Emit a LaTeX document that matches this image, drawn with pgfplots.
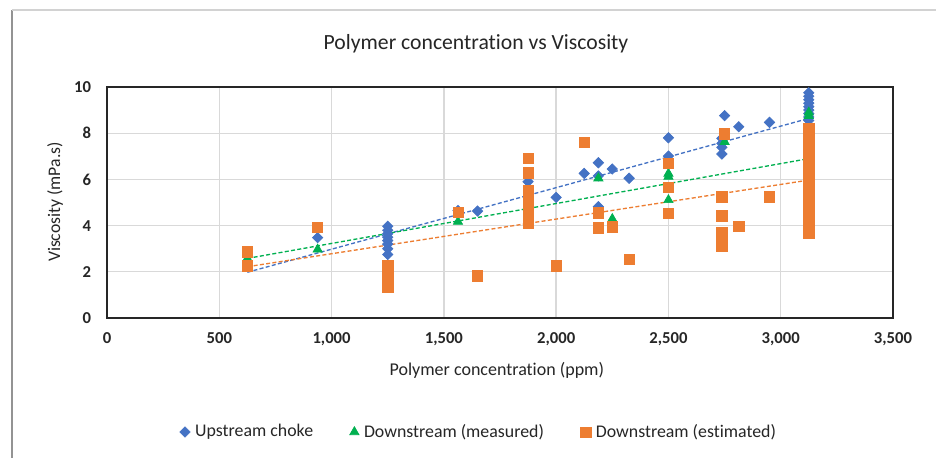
\documentclass[border=0pt]{standalone}
\usepackage{pgfplots}
\pgfplotsset{compat=1.18}
\usepackage{fontspec}
\setmainfont{Carlito}[Ligatures={NoCommon}]
\definecolor{cblue}{HTML}{4472C4}
\definecolor{cgreen}{HTML}{00B050}
\definecolor{corange}{HTML}{ED7D31}
\definecolor{cgrid}{HTML}{D9D9D9}
\definecolor{ctext}{HTML}{262626}
\begin{document}
\begin{tikzpicture}
\useasboundingbox (0,0) rectangle (561.6pt,274.2pt);
\fill[white] (0,0) rectangle (561.6pt,274.2pt);
\draw[gray!85,line width=0.9pt] (7.2pt,-10pt) -- (7.2pt,268.2pt);
\draw[gray!35,line width=0.9pt] (7.2pt,268.2pt) -- (580pt,268.2pt);
\node[anchor=center, font=\fontsize{13}{15}\selectfont, text=ctext, inner sep=0pt] at (285.6pt,247.8pt) {Polymer concentration vs Viscosity};
\begin{axis}[
  at={(64.2pt,83.4pt)}, anchor=south west,
  width=471.6pt, height=138.6pt, scale only axis,
  xmin=0, xmax=3500, ymin=0, ymax=10,
  xtick={0,500,...,3500}, ytick={0,2,...,10},
  major tick length=0pt,
  grid=major, major grid style={cgrid, line width=0.8pt},
  axis line style={black!85, line width=0.9pt},
  /pgf/number format/assume math mode=true,
  /pgf/number format/1000 sep={,},
  ticklabel style={font=\bfseries\fontsize{10}{12}\selectfont, text=ctext},
  yticklabel style={xshift=-6pt},
  xticklabel style={yshift=-5pt},
  xlabel={Polymer concentration (ppm)},
  xlabel style={at={(axis description cs:0.496,-0.225)}, anchor=center, font=\fontsize{10.8}{13}\selectfont, text=ctext},
  ylabel={Viscosity (mPa.s)},
  ylabel style={at={(axis description cs:-0.066,0.502)}, anchor=center, font=\fontsize{10.6}{13}\selectfont, text=ctext},
  legend columns=3,
  legend style={at={(axis description cs:0.474,-0.4935)}, anchor=center, draw=none, fill=none,
    font=\fontsize{10.7}{13}\selectfont, text=ctext,
    /tikz/every odd column/.append style={column sep=1pt},
    /tikz/every even column/.append style={column sep=20pt}},
  legend image code/.code={\draw[#1] plot coordinates {(0.1cm,0cm)};},
  clip=false,
]
% Upstream choke
\addplot[only marks, mark=square*, mark size=2.2pt, mark options={rotate=45, fill=cblue, draw=cblue}] coordinates {
(938,3.48)
(1250,3.97) (1250,3.8) (1250,3.65) (1250,3.5) (1250,3.35) (1250,3.2) (1250,3.0) (1250,2.75)
(1563,4.65) (1650,4.63) (1875,5.9) (2000,5.22) (2125,6.26)
(2188,6.72) (2188,6.15) (2188,4.82) (2250,6.45) (2325,6.05)
(2500,7.8) (2500,7.01)
(2738,7.78) (2738,7.56) (2738,7.39) (2738,7.1)
(2750,8.76) (2813,8.28) (2950,8.47)
(3125,9.75) (3125,9.6) (3125,9.45) (3125,9.3) (3125,9.15) (3125,9.0) (3125,8.85) (3125,8.7) (3125,8.55)
};
\addlegendentry{Upstream choke}
% Downstream measured
\addplot[only marks, mark=triangle*, mark size=3.2pt, mark options={fill=cgreen, draw=cgreen}] coordinates {
(625,2.58) (938,2.97) (1563,4.17) (2188,6.05) (2250,4.29)
(2500,6.25) (2500,6.12) (2500,5.11) (2750,7.63)
(3125,8.9) (3125,8.75)
};
\addlegendentry{Downstream (measured)}
% Downstream estimated
\addplot[only marks, mark=square*, mark size=3.1pt, mark options={fill=corange, draw=corange}] coordinates {
(625,2.87) (625,2.26) (938,3.93)
(1250,2.28) (1250,2.15) (1250,2.0) (1250,1.85) (1250,1.7) (1250,1.55) (1250,1.42) (1250,1.33)
(1563,4.57) (1650,1.82)
(1875,6.91) (1875,6.29) (1875,5.52) (1875,5.3) (1875,5.1) (1875,4.9) (1875,4.7) (1875,4.5) (1875,4.3) (1875,4.12)
(2000,2.26) (2125,7.6) (2188,4.56) (2188,3.91) (2250,3.95) (2325,2.55)
(2500,6.7) (2500,5.66) (2500,4.53)
(2738,5.25) (2738,4.43) (2738,3.71) (2738,3.5) (2738,3.3) (2738,3.11)
(2750,7.97) (2813,3.98) (2950,5.25)
(3125,8.19) (3125,8.0) (3125,7.8) (3125,7.6) (3125,7.4) (3125,7.2) (3125,7.0) (3125,6.8) (3125,6.6) (3125,6.4) (3125,6.2) (3125,6.0) (3125,5.8) (3125,5.6) (3125,5.4) (3125,5.2) (3125,5.0) (3125,4.8) (3125,4.6) (3125,4.4) (3125,4.2) (3125,4.0) (3125,3.85) (3125,3.69)
};
\addlegendentry{Downstream (estimated)}
% trendlines
\addplot[forget plot, cblue, line width=0.8pt, dash pattern=on 2.4pt off 1.4pt] coordinates {(625,1.98) (3125,8.64)};
\addplot[forget plot, cgreen, line width=0.8pt, dash pattern=on 2.4pt off 1.4pt] coordinates {(625,2.58) (3125,6.90)};
\addplot[forget plot, corange, line width=0.8pt, dash pattern=on 2.4pt off 1.4pt] coordinates {(625,2.22) (3125,5.97)};
\end{axis}
\end{tikzpicture}
\end{document}
